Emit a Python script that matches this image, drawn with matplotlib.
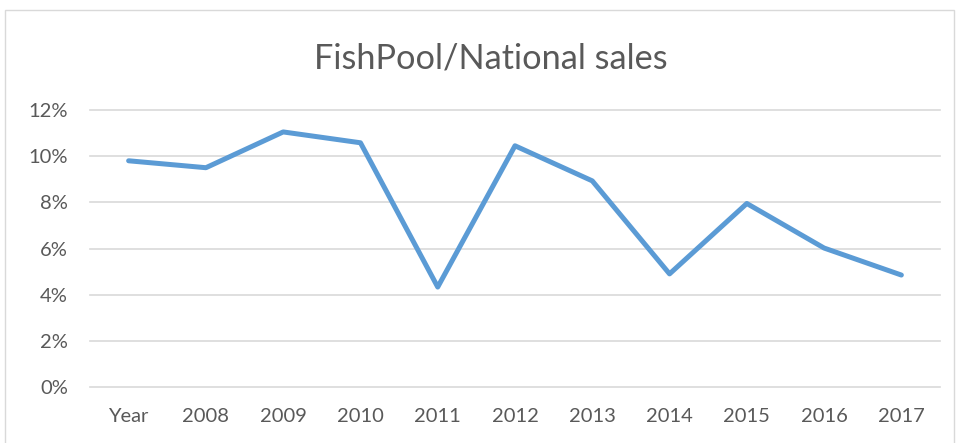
import matplotlib
matplotlib.use("Agg")
import matplotlib.pyplot as plt
from matplotlib.patches import Rectangle
from matplotlib.ticker import FuncFormatter

categories = ["Year", "2008", "2009", "2010", "2011", "2012", "2013", "2014", "2015", "2016", "2017"]
values = [9.80, 9.50, 11.05, 10.58, 4.33, 10.45, 8.93, 4.90, 7.95, 6.02, 4.85]
yticks = [0, 2, 4, 6, 8, 10, 12]

plt.rcParams['font.family'] = ['Lato', 'DejaVu Sans']
text_color = "#595959"

fig = plt.figure(figsize=(9.56, 4.43), dpi=100)
fig.patches.append(Rectangle((5/956, -0.1), 949/956, 1 - 10/443 + 0.1, transform=fig.transFigure,
                             fill=False, edgecolor="#D9D9D9", linewidth=1.0))
ax = fig.add_axes([90/956, 1 - 387/443, 850/956, (387 - 110)/443])

x = list(range(len(categories)))
ax.plot(x, values, color="#5B9BD5", linewidth=3.6, solid_capstyle="round", solid_joinstyle="round", zorder=3)

ax.set_xlim(-0.5, len(categories) - 0.5)
ax.set_ylim(0, 12)
ax.set_yticks(yticks)
ax.yaxis.set_major_formatter(FuncFormatter(lambda v, p: f"{int(v)}%"))
ax.set_xticks(x)
ax.set_xticklabels(categories)
ax.grid(axis="y", color="#D9D9D9", linewidth=1.2)
for gl in ax.get_ygridlines():
    gl.set_clip_on(False)
ax.set_axisbelow(True)
for s in ax.spines.values():
    s.set_visible(False)
ax.tick_params(axis="both", length=0, labelsize=14.5, colors=text_color)
ax.tick_params(axis="x", pad=15)
ax.tick_params(axis="y", pad=16)

fig.text(491/956, 1 - 58/443, "FishPool/National sales", ha="center", va="center",
         fontsize=24.7, color=text_color)

fig.savefig("out.png", dpi=100)
